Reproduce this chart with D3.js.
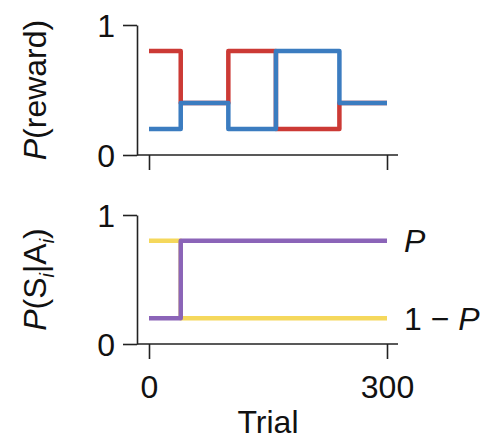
<!DOCTYPE html>
<html>
<head>
<meta charset="utf-8">
<script src="https://cdn.jsdelivr.net/npm/d3@7"></script>
<style>
    body { margin: 0; background: #fff; }
    text { font-family: "Liberation Sans", Arial, sans-serif; fill: #111; }
    .axis path, .axis line { stroke: #222; stroke-width: 1.6; }
</style>
</head>
<body>
<div id="chart"></div>
<script>
// block boundaries (trial where each block starts) and reward probabilities
const blockStarts = [0, 40, 100, 160, 240, 300];
const redReward = [0.8, 0.4, 0.8, 0.2, 0.4];
const blueReward = [0.2, 0.4, 0.2, 0.8, 0.4];

// state-action probabilities
const stateStarts = [0, 40, 300];
const yellowProb = [0.8, 0.2];
const purpleProb = [0.2, 0.8];

const xTicks = [0, 300];
const yTicks = [0, 1];

const width = 491, height = 440;
const svg = d3.select("#chart").append("svg")
    .attr("width", width)
    .attr("height", height);

const x = d3.scaleLinear().domain([0, 300]).range([149, 387]);
const axisX = 137; // where the y spine sits

// turn blocks into step points
function steps(starts, vals) {
    let pts = [];
    vals.forEach((v, i) => {
        pts.push([starts[i], v]);
        pts.push([starts[i + 1], v]);
    });
    return pts;
}

function panel(top, bottom, series, label, showTickLabels) {
    let y = d3.scaleLinear().domain([0, 1]).range([bottom, top]);

    // y axis
    let yAxis = d3.axisLeft(y).tickValues(yTicks).tickSize(14).tickSizeOuter(0).tickPadding(8)
        .tickFormat(d3.format("d"));
    let gy = svg.append("g").attr("class", "axis")
        .attr("transform", "translate(" + axisX + ",0)")
        .call(yAxis);
    gy.selectAll("text").style("font-size", "32px").attr("dy", "0.36em");

    // x axis: ticks only, spine drawn separately
    let xAxis = d3.axisBottom(x).tickValues(xTicks).tickSize(15).tickSizeOuter(0).tickPadding(16);
    let gx = svg.append("g").attr("class", "axis")
        .attr("transform", "translate(0," + bottom + ")")
        .call(xAxis);
    gx.select(".domain").remove();
    if (showTickLabels) {
        gx.selectAll("text").style("font-size", "32px").attr("dy", "0.72em");
    } else {
        gx.selectAll("text").remove();
    }
    svg.append("line")
        .attr("x1", axisX).attr("x2", x(300) + 11)
        .attr("y1", bottom).attr("y2", bottom)
        .attr("stroke", "#222").attr("stroke-width", 1.6);

    let line = d3.line()
        .x(d => x(d[0]))
        .y(d => y(d[1]));

    series.forEach(s => {
        svg.append("path")
            .datum(steps(s.starts, s.values))
            .attr("d", line)
            .attr("fill", "none")
            .attr("stroke", s.color)
            .attr("stroke-width", 4.5)
            .attr("stroke-linejoin", "round");
    });

    // y label
    svg.append("text")
        .attr("transform", "translate(46," + (top + bottom) / 2 + ") rotate(-90)")
        .style("text-anchor", "middle")
        .style("font-size", "32px")
        .html(label);

    return y;
}

panel(25, 155, [
    { starts: blockStarts, values: redReward, color: "#cc3a35" },
    { starts: blockStarts, values: blueReward, color: "#3b7cc0" }
], '<tspan font-style="italic">P</tspan>(reward)', false);

let y2 = panel(215, 344, [
    { starts: stateStarts, values: yellowProb, color: "#f5d85c" },
    { starts: stateStarts, values: purpleProb, color: "#8b64b8" }
], '<tspan font-style="italic">P</tspan>(S<tspan font-style="italic" font-size="20px" dy="8">i</tspan><tspan dy="-8">|A</tspan><tspan font-style="italic" font-size="20px" dy="8">i</tspan><tspan dy="-8">)</tspan>', true);

// line labels on the right
svg.append("text")
    .attr("x", x(300) + 17).attr("y", y2(0.8)).attr("dy", "0.36em")
    .style("font-size", "32px").style("font-style", "italic")
    .text("P");
svg.append("text")
    .attr("x", x(300) + 17).attr("y", y2(0.2)).attr("dy", "0.36em")
    .style("font-size", "32px")
    .html('1 \u2212 <tspan font-style="italic">P</tspan>');

// x axis title
svg.append("text")
    .attr("x", (x(0) + x(300)) / 2).attr("y", 433)
    .style("text-anchor", "middle")
    .style("font-size", "32px")
    .text("Trial");
</script>
</body>
</html>
